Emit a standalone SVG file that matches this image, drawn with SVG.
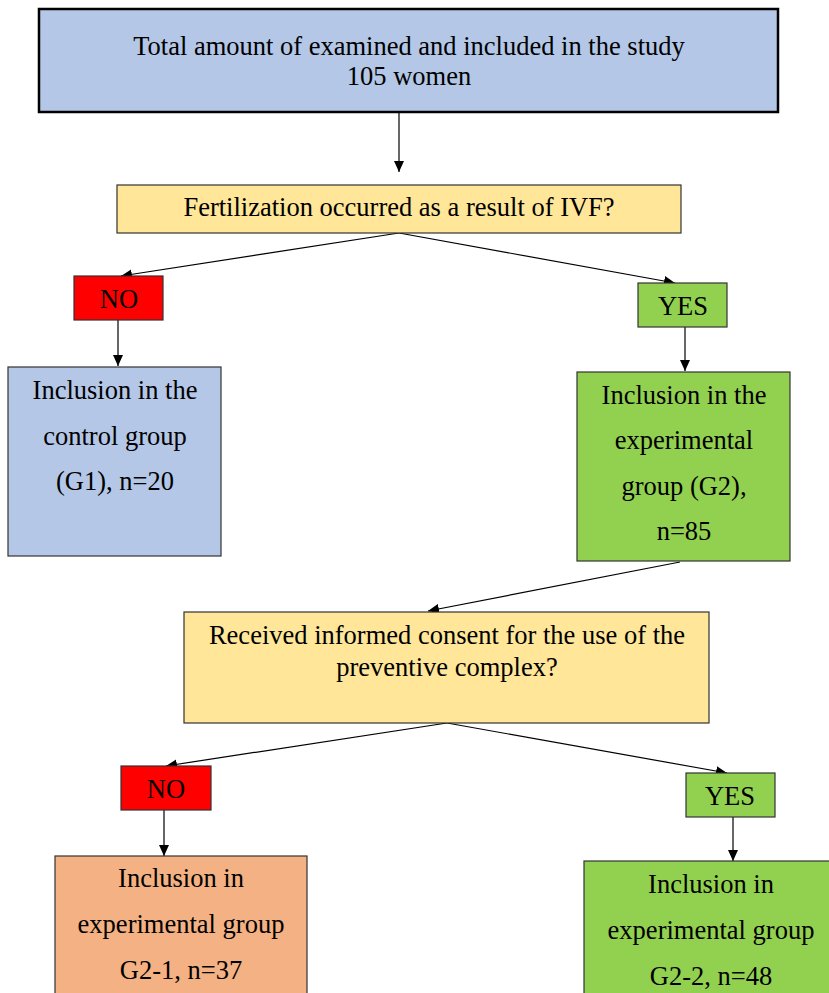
<svg xmlns="http://www.w3.org/2000/svg" width="829" height="993" viewBox="0 0 829 993">
<style>
  .box { stroke: #333333; stroke-width: 1.2; }
  .blue { fill: #b4c7e7; }
  .yellow { fill: #ffe699; }
  .red { fill: #ff0000; }
  .green { fill: #92d050; }
  .orange { fill: #f4b183; }
  text { font-family: "Liberation Serif", "Times New Roman", serif; font-size: 26.5px; fill: #000; text-anchor: middle; }
  .conn { stroke: #000; stroke-width: 1.2; fill: none; marker-end: url(#arrow); }
</style>
<defs>
  <marker id="arrow" markerUnits="userSpaceOnUse" markerWidth="12" markerHeight="10" refX="11" refY="5" orient="auto">
    <path d="M0,0 L11,5 L0,10 Z" fill="#000"/>
  </marker>
</defs>
<rect width="829" height="993" fill="#ffffff"/>

<g id="connectors">
  <path class="conn" d="M399,113 L399,172"/>
  <path class="conn" d="M399,233 L121,276"/>
  <path class="conn" d="M399,233 L675,283"/>
  <path class="conn" d="M118,320 L118,366"/>
  <path class="conn" d="M685,327 L685,371"/>
  <path class="conn" d="M680,562 L428,611"/>
  <path class="conn" d="M447,723 L166,766"/>
  <path class="conn" d="M447,723 L727,773"/>
  <path class="conn" d="M164,810 L164,856"/>
  <path class="conn" d="M733,817 L733,861"/>
</g>

<g id="total">
  <rect x="39" y="9" width="739" height="103" class="blue" stroke="#000" stroke-width="2.5"/>
  <text x="409" y="55">Total amount of examined and included in the study</text>
  <text x="409" y="85">105 women</text>
</g>

<g id="fertilization">
  <rect x="117" y="185" width="564" height="48" class="box yellow"/>
  <text x="399" y="216">Fertilization occurred as a result of IVF?</text>
</g>

<g id="no1">
  <rect x="74" y="276" width="89" height="44" class="box red"/>
  <text x="119" y="308">NO</text>
</g>

<g id="yes1">
  <rect x="638" y="283" width="89" height="44" class="box green"/>
  <text x="683" y="315">YES</text>
</g>

<g id="control">
  <rect x="8" y="367" width="213" height="189" class="box blue"/>
  <text x="115" y="399">Inclusion in the</text>
  <text x="115" y="445">control group</text>
  <text x="115" y="490">(G1), n=20</text>
</g>

<g id="experimental">
  <rect x="577" y="372" width="213" height="189" class="box green"/>
  <text x="684" y="404">Inclusion in the</text>
  <text x="684" y="449">experimental</text>
  <text x="684" y="495">group (G2),</text>
  <text x="684" y="540">n=85</text>
</g>

<g id="consent">
  <rect x="184" y="612" width="525" height="111" class="box yellow"/>
  <text x="447" y="644">Received informed consent for the use of the</text>
  <text x="447" y="676">preventive complex?</text>
</g>

<g id="no2">
  <rect x="121" y="766" width="90" height="44" class="box red"/>
  <text x="166" y="798">NO</text>
</g>

<g id="yes2">
  <rect x="686" y="773" width="89" height="44" class="box green"/>
  <text x="730" y="805">YES</text>
</g>

<g id="g21">
  <rect x="55" y="856" width="252" height="150" class="box orange"/>
  <text x="181" y="887">Inclusion in</text>
  <text x="181" y="933">experimental group</text>
  <text x="181" y="979">G2-1, n=37</text>
</g>

<g id="g22">
  <rect x="584" y="861" width="260" height="150" class="box green"/>
  <text x="711" y="893">Inclusion in</text>
  <text x="711" y="939">experimental group</text>
  <text x="711" y="985">G2-2, n=48</text>
</g>
</svg>
